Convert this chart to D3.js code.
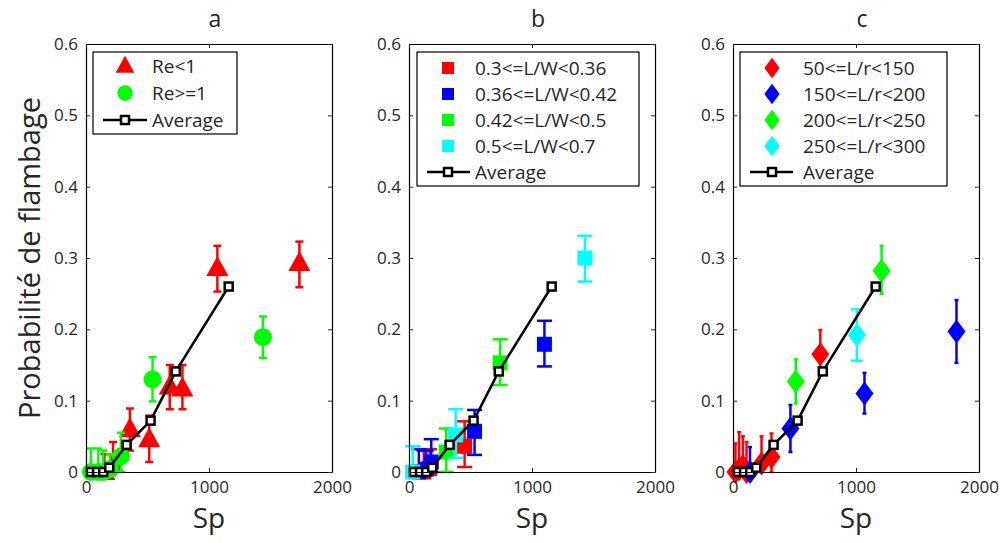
<!DOCTYPE html>
<html><head><meta charset="utf-8">
<script src="https://cdn.jsdelivr.net/npm/d3@7"></script>
<style>
body{margin:0;background:#fff;}
text{font-family:"Open Sans",sans-serif;fill:#262626;}
</style></head>
<body><svg id="c" width="1000" height="543"></svg>
<script>
// ---------- data ----------
const panelTitles = ["a", "b", "c"];
const xTicks = [0, 1000, 2000];
const yTicks = [0, 0.1, 0.2, 0.3, 0.4, 0.5, 0.6];
const yTickLabels = ["0", "0.1", "0.2", "0.3", "0.4", "0.5", "0.6"];
const xLabel = "Sp";
const yLabel = "Probabilité de flambage";

// Average curve (same in all panels): [Sp, P]
const avgSp = [40, 90, 140, 189, 330, 525, 730, 1160];
const avgP  = [0, 0, 0, 0.006, 0.038, 0.072, 0.141, 0.26];

// each point: [Sp, P, low, high]
// panel a
const reBelow1 = [[1068,0.286,0.253,0.317],[1735,0.293,0.259,0.323],[681,0.120,0.088,0.150],[784,0.117,0.088,0.150],
  [514,0.046,0.014,0.079],[357,0.060,0.030,0.089],[220,0.010,0.000,0.042],[150,0.000,0.000,0.025]];
const reAbove1 = [[1438,0.189,0.160,0.218],[541,0.130,0.099,0.161],[284,0.022,0.000,0.055],
  [40,0,0,0.033],[100,0,0,0.033],[140,0,0,0.030],[195,0.004,0,0.025]];
// panel b
const lw1 = [[452,0.036,0.007,0.071],[168,0.005,0,0.032],[120,0,0,0.030]];
const lw2 = [[1101,0.179,0.148,0.212],[533,0.057,0.024,0.087],[181,0.014,0,0.046],[80,0,0,0.032],[140,0.004,0,0.030]];
const lw3 = [[741,0.153,0.122,0.186],[303,0.028,0,0.061]];
const lw4 = [[1430,0.300,0.267,0.331],[379,0.052,0.020,0.088],[30,0,0,0.036]];
// panel c
const lr1 = [[710,0.165,0.135,0.199],[313,0.021,0,0.054],[232,0.012,0,0.050],[20,0,0,0.040],[50,0.004,0,0.056],[80,0.008,0,0.050],[110,0,0,0.042]];
const lr2 = [[1817,0.197,0.153,0.241],[1069,0.110,0.082,0.139],[467,0.061,0.028,0.094],[138,0,0,0.035]];
const lr3 = [[1208,0.282,0.250,0.317],[510,0.127,0.096,0.158]];
const lr4 = [[1007,0.192,0.156,0.228]];

const legendA = ["Re<1", "Re>=1", "Average"];
const legendB = ["0.3<=L/W<0.36", "0.36<=L/W<0.42", "0.42<=L/W<0.5", "0.5<=L/W<0.7", "Average"];
const legendC = ["50<=L/r<150", "150<=L/r<200", "200<=L/r<250", "250<=L/r<300", "Average"];

// ---------- layout / style ----------
const svg = d3.select("#c");
const plotTop = 44, plotBottom = 472;
const panels = [
  {left:86, right:332, series:[[reBelow1,"#ff0000","tri",8],[reAbove1,"#00ff00","circ",8]], legend:legendA,
   lg:{x0:93,x1:237,y0:52,y1:134,mx:125,tx:152,rows:[66,93,120],lx0:103,lx1:147}},
  {left:409, right:655, series:[[lw1,"#ff0000","sq",15],[lw2,"#0000ff","sq",15],[lw3,"#00ff00","sq",15],[lw4,"#00ffff","sq",15]], legend:legendB,
   lg:{x0:417,x1:639,y0:52,y1:186,mx:448,tx:475,rows:[68,94,120,146,172],lx0:427,lx1:470}},
  {left:733, right:979, series:[[lr1,"#ff0000","dia",4],[lr2,"#0000ff","dia",4],[lr3,"#00ff00","dia",4],[lr4,"#00ffff","dia",12]], legend:legendC,
   lg:{x0:740,x1:947,y0:52,y1:186,mx:772,tx:803,rows:[68,94,120,146,172],lx0:750,lx1:793}}
];

function marker(g, type, color, x, y, scale) {
  scale = scale || 1;
  if (type === "tri") {
    const w = 11*scale, h = 20*scale;
    g.append("path").attr("d", `M${x},${y-h*0.6}L${x+w},${y+h*0.4}L${x-w},${y+h*0.4}Z`).attr("fill", color);
  } else if (type === "circ") {
    g.append("circle").attr("cx", x).attr("cy", y).attr("r", 9*scale).attr("fill", color);
  } else if (type === "sq") {
    const s = 15*scale;
    g.append("rect").attr("x", x-s/2).attr("y", y-s/2).attr("width", s).attr("height", s).attr("fill", color);
  } else if (type === "dia") {
    const w = 9*scale, h = 12*scale;
    g.append("path").attr("d", `M${x},${y-h}L${x+w},${y}L${x},${y+h}L${x-w},${y}Z`).attr("fill", color);
  }
}

panels.forEach((p, i) => {
  const x = d3.scaleLinear().domain([0, 2000]).range([p.left, p.right]);
  const y = d3.scaleLinear().domain([0, 0.6]).range([plotBottom, plotTop]);
  const g = svg.append("g");

  // title
  svg.append("text").attr("x", (p.left+p.right)/2 + 6).attr("y", 27).attr("text-anchor", "middle")
    .style("font-size", "23px").text(panelTitles[i]);

  // axes (ticks inward, box)
  const ax = d3.axisBottom(x).tickValues(xTicks).tickSizeInner(-4).tickSizeOuter(0).tickPadding(9).tickFormat(d3.format("d"));
  const gx = svg.append("g").attr("transform", `translate(0,${plotBottom})`).call(ax);
  const ay = d3.axisLeft(y).tickValues(yTicks).tickSizeInner(-4).tickSizeOuter(0).tickPadding(8).tickFormat((d, k) => yTickLabels[k]);
  const gy = svg.append("g").attr("transform", `translate(${p.left},0)`).call(ay);
  const axT = d3.axisTop(x).tickValues(xTicks).tickSizeInner(-4).tickSizeOuter(0).tickFormat("");
  const gt = svg.append("g").attr("transform", `translate(0,${plotTop})`).call(axT);
  const ayR = d3.axisRight(y).tickValues(yTicks).tickSizeInner(-4).tickSizeOuter(0).tickFormat("");
  const gr = svg.append("g").attr("transform", `translate(${p.right},0)`).call(ayR);
  [gx, gy, gt, gr].forEach(a => {
    a.select(".domain").attr("stroke", "#000").attr("stroke-width", 1.2);
    a.selectAll(".tick line").attr("stroke", "#262626");
    a.selectAll(".tick text").style("font-size", "17px").style("font-family", "'Open Sans',sans-serif").attr("fill", "#262626");
  });

  // x label
  svg.append("text").attr("x", (p.left+p.right)/2).attr("y", 528).attr("text-anchor", "middle")
    .style("font-size", "28px").text(xLabel);

  // series: error bars + markers
  p.series.forEach(([data, color, type, cap]) => {
    data.forEach(d => {
      const cx = x(d[0]);
      g.append("line").attr("x1", cx).attr("x2", cx).attr("y1", y(d[2])).attr("y2", y(d[3]))
        .attr("stroke", color).attr("stroke-width", 2.5);
      [d[2], d[3]].forEach(v => g.append("line").attr("x1", cx-cap/2).attr("x2", cx+cap/2).attr("y1", y(v)).attr("y2", y(v))
        .attr("stroke", color).attr("stroke-width", 2.5));
      marker(g, type, color, cx, y(d[1]));
    });
  });

  // average line
  const line = d3.line().x((d, k) => x(avgSp[k])).y((d, k) => y(avgP[k]));
  g.append("path").attr("d", line(avgSp)).attr("fill", "none").attr("stroke", "#000").attr("stroke-width", 2.5);
  avgSp.forEach((s, k) => {
    g.append("rect").attr("x", x(s)-4).attr("y", y(avgP[k])-4).attr("width", 8).attr("height", 8)
      .attr("fill", "#fff").attr("stroke", "#000").attr("stroke-width", 2.5);
  });

  // legend
  const L = p.lg;
  svg.append("rect").attr("x", L.x0).attr("y", L.y0).attr("width", L.x1-L.x0).attr("height", L.y1-L.y0)
    .attr("fill", "#fff").attr("stroke", "#000").attr("stroke-width", 1.2);
  p.legend.forEach((lab, k) => {
    const ry = L.rows[k];
    if (k < p.series.length) {
      const [, color, type] = p.series[k];
      marker(svg, type, color, L.mx, ry, type === "sq" ? 0.8 : 0.85);
    } else {
      svg.append("line").attr("x1", L.lx0).attr("x2", L.lx1).attr("y1", ry).attr("y2", ry).attr("stroke", "#000").attr("stroke-width", 2.5);
      svg.append("rect").attr("x", L.mx-4).attr("y", ry-4).attr("width", 8).attr("height", 8)
        .attr("fill", "#fff").attr("stroke", "#000").attr("stroke-width", 2.5);
    }
    svg.append("text").attr("x", L.tx).attr("y", ry + 7).style("font-size", "19px").text(lab);
  });
});

// y label
svg.append("text").attr("transform", "translate(40,258) rotate(-90)").attr("text-anchor", "middle")
  .style("font-size", "29px").text(yLabel);
</script></body></html>
